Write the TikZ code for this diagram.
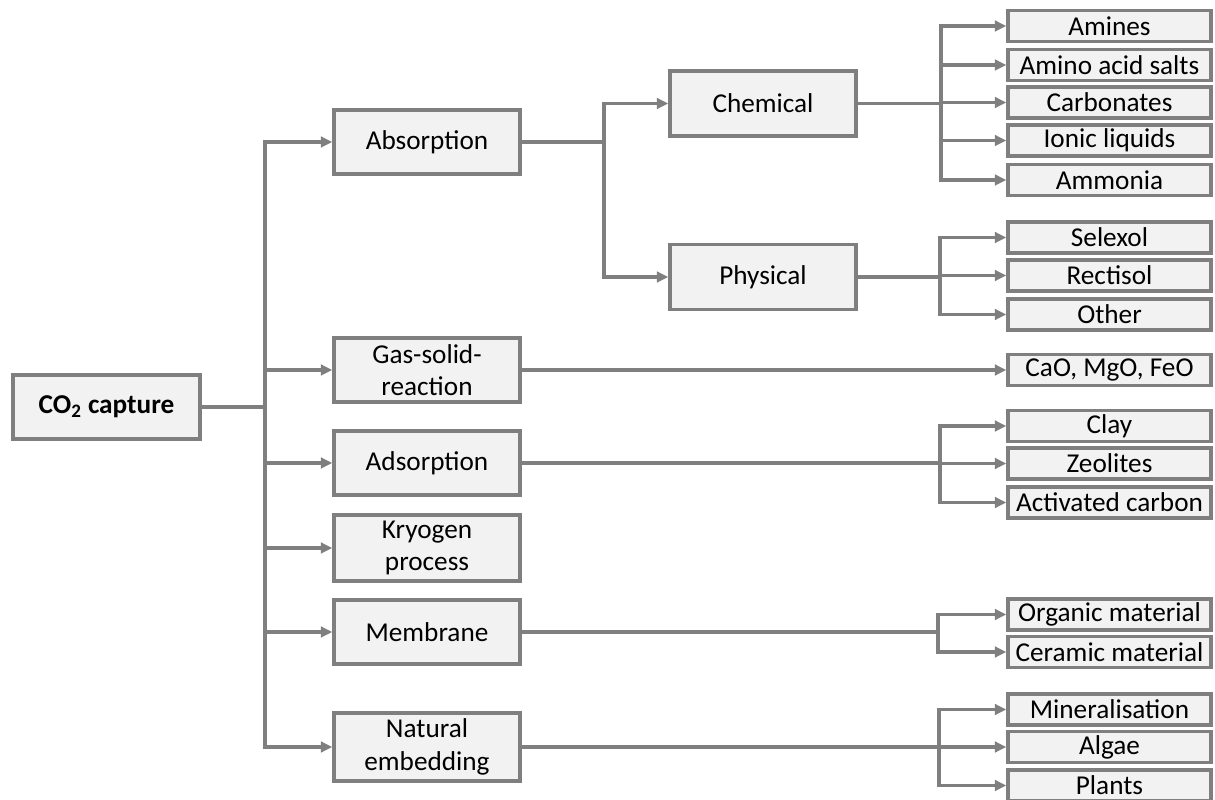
\documentclass[tikz,border=0pt]{standalone}
\usepackage{fontspec}
\setmainfont{Carlito}
\usepackage{xcolor}
\usepackage{tikz}
\usetikzlibrary{arrows.meta, positioning}
\definecolor{linegray}{HTML}{7F7F7F}
\definecolor{boxfill}{HTML}{F2F2F2}

\begin{document}
\begin{tikzpicture}[x=0.02cm, y=-0.02cm,
box/.style={rectangle, draw=linegray, fill=boxfill, line width=2pt, minimum width=3.72cm, minimum height=1.28cm, align=center, font=\fontsize{15.5}{18.5}\selectfont},
leaf/.style={box, minimum width=4.06cm, minimum height=0.62cm, inner sep=0pt},
arr/.style={-{Triangle[length=6.5pt, width=6pt]}, draw=linegray, line width=2pt}
]
\useasboundingbox (0,0) rectangle (1215,800);
% root and first level
\node[box, minimum width=3.74cm] (root) at (106.5,407) {\textbf{CO\textsubscript{2} capture}};
\node[box] (abs) at (427,142) {Absorption};
\node[box] (gas) at (427,370) {Gas-solid-\\reaction};
\node[box] (ads) at (427,463) {Adsorption};
\node[box] (kry) at (427,548) {Kryogen\\process};
\node[box] (mem) at (427,632) {Membrane};
\node[box] (nat) at (427,747) {Natural\\embedding};
% second level
\node[box, minimum height=1.3cm] (chem) at (763,103.5) {Chemical};
\node[box, minimum height=1.3cm] (phys) at (763,277) {Physical};
% leaves
\node[leaf] (amin) at (1109.5,26) {Amines};
\node[leaf] (amac) at (1109.5,65) {Amino acid salts};
\node[leaf] (carb) at (1109.5,102.5) {Carbonates};
\node[leaf] (ionl) at (1109.5,140.5) {Ionic liquids};
\node[leaf] (ammo) at (1109.5,180) {Ammonia};
\node[leaf] (selx) at (1109.5,237.5) {Selexol};
\node[leaf] (rect) at (1109.5,275.5) {Rectisol};
\node[leaf] (othr) at (1109.5,314.5) {Other};
\node[leaf] (oxid) at (1109.5,370) {CaO, MgO, FeO};
\node[leaf] (clay) at (1109.5,426) {Clay};
\node[leaf] (zeol) at (1109.5,463.5) {Zeolites};
\node[leaf] (actc) at (1109.5,502.5) {Activated carbon};
\node[leaf] (orgm) at (1109.5,614.5) {Organic material};
\node[leaf] (cerm) at (1109.5,652) {Ceramic material};
\node[leaf] (minr) at (1109.5,709.5) {Mineralisation};
\node[leaf] (alga) at (1109.5,747) {Algae};
\node[leaf] (plnt) at (1109.5,785.5) {Plants};
% branch points
\coordinate (trunk) at (265,407);
\coordinate (absbr) at (604,142);
\coordinate (chembr) at (941,103.5);
\coordinate (physbr) at (940,277);
\coordinate (adsbr) at (940,463);
\coordinate (membr) at (938,632);
\coordinate (natbr) at (939,747);
% connectors
\draw[arr] (root.east) -- (trunk) |- (abs);
\draw[arr] (root.east) -- (trunk) |- (gas);
\draw[arr] (root.east) -- (trunk) |- (ads);
\draw[arr] (root.east) -- (trunk) |- (kry);
\draw[arr] (root.east) -- (trunk) |- (mem);
\draw[arr] (root.east) -- (trunk) |- (nat);
\draw[arr] (abs.east) -- (absbr) |- (chem);
\draw[arr] (abs.east) -- (absbr) |- (phys);
\draw[arr] (chem.east) -- (chembr) |- (amin);
\draw[arr] (chem.east) -- (chembr) |- (amac);
\draw[arr] (chem.east) -- (chembr) |- (carb);
\draw[arr] (chem.east) -- (chembr) |- (ionl);
\draw[arr] (chem.east) -- (chembr) |- (ammo);
\draw[arr] (phys.east) -- (physbr) |- (selx);
\draw[arr] (phys.east) -- (physbr) |- (rect);
\draw[arr] (phys.east) -- (physbr) |- (othr);
\draw[arr] (gas) -- (oxid);
\draw[arr] (ads.east) -- (adsbr) |- (clay);
\draw[arr] (ads.east) -- (adsbr) |- (zeol);
\draw[arr] (ads.east) -- (adsbr) |- (actc);
\draw[arr] (mem.east) -- (membr) |- (orgm);
\draw[arr] (mem.east) -- (membr) |- (cerm);
\draw[arr] (nat.east) -- (natbr) |- (minr);
\draw[arr] (nat.east) -- (natbr) |- (alga);
\draw[arr] (nat.east) -- (natbr) |- (plnt);
\end{tikzpicture}
\end{document}
